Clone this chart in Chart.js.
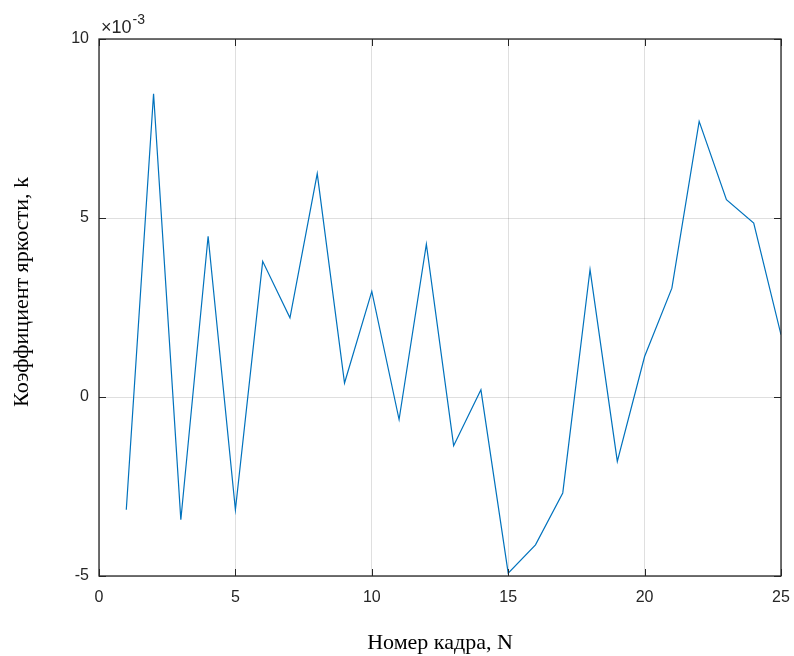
<!DOCTYPE html>
<html>
<head>
<meta charset="utf-8">
<script src="https://cdn.jsdelivr.net/npm/chart.js@4.4.1/dist/chart.umd.min.js"></script>
<style>
  html, body { margin: 0; padding: 0; background: #fff; }
  #wrap { width: 794px; height: 656px; }
</style>
</head>
<body>
<div id="wrap"><canvas id="chart" width="794" height="656"></canvas></div>
<script>
// frame numbers and brightness coefficient (in units of 1e-3)
const frames = [1, 2, 3, 4, 5, 6, 7, 8, 9, 10, 11, 12, 13, 14, 15, 16, 17, 18, 19, 20, 21, 22, 23, 24, 25];
const brightnessK = [-3.15, 8.47, -3.43, 4.49, -3.15, 3.79, 2.21, 6.24, 0.39, 2.95, -0.63, 4.27, -1.36, 0.2, -4.92,
    -4.13, -2.68, 3.56, -1.80, 1.13, 3.04, 7.70, 5.51, 4.86, 1.74];
const xTicks = [0, 5, 10, 15, 20, 25];
const yTicks = [-5, 0, 5, 10];
const yTitle = "Коэффициент яркости, k";

const axisColor = "#262626";

// MATLAB-like box, inward ticks, exponent label and the y title
const matlabAxes = {
    id: "matlabAxes",
    afterDraw(chart) {
        const { ctx, chartArea: a, scales } = chart;
        ctx.save();
        ctx.strokeStyle = axisColor;
        ctx.lineWidth = 1.3;
        ctx.strokeRect(a.left, a.top, a.right - a.left, a.bottom - a.top);
        ctx.lineWidth = 1;
        ctx.beginPath();
        xTicks.forEach(v => {
            const x = Math.round(scales.x.getPixelForValue(v)) + 0.5;
            ctx.moveTo(x, a.bottom); ctx.lineTo(x, a.bottom - 7);
            ctx.moveTo(x, a.top); ctx.lineTo(x, a.top + 7);
        });
        yTicks.forEach(v => {
            const y = Math.round(scales.y.getPixelForValue(v)) + 0.5;
            ctx.moveTo(a.left, y); ctx.lineTo(a.left + 7, y);
            ctx.moveTo(a.right, y); ctx.lineTo(a.right - 7, y);
        });
        ctx.stroke();

        ctx.fillStyle = axisColor;
        ctx.textBaseline = "alphabetic";
        ctx.textAlign = "left";
        ctx.font = "18px 'Liberation Sans', Arial, sans-serif";
        ctx.fillText("\u00d710", a.left + 2, a.top - 6);
        const w = ctx.measureText("\u00d710").width;
        ctx.font = "14px 'Liberation Sans', Arial, sans-serif";
        ctx.fillText("-3", a.left + 3 + w, a.top - 15);

        // y axis title, a bit above the middle as in the original
        ctx.fillStyle = "#000";
        ctx.font = "22px 'Liberation Serif', 'Times New Roman', serif";
        ctx.textAlign = "center";
        ctx.textBaseline = "middle";
        ctx.translate(22, 292);
        ctx.rotate(-Math.PI / 2);
        ctx.fillText(yTitle, 0, 0);
        ctx.restore();
    }
};

new Chart(document.getElementById("chart"), {
    type: "line",
    data: {
        datasets: [
            {
                label: "k",
                data: frames.map((f, i) => ({ x: f, y: brightnessK[i] })),
                borderColor: "#0072BD",
                borderWidth: 1.2,
                pointRadius: 0,
                tension: 0,
                fill: false,
            },
        ],
    },
    options: {
        responsive: false,
        animation: false,
        layout: { padding: { top: 39, right: 13, left: 0, bottom: 0 } },
        plugins: {
            legend: { display: false },
            tooltip: { enabled: false },
        },
        scales: {
            x: {
                type: "linear",
                min: 0,
                max: 25,
                afterBuildTicks: s => { s.ticks = xTicks.map(v => ({ value: v })); },
                afterFit: s => { s.height = 80; s.paddingLeft = 0; s.paddingRight = 0; },
                grid: { color: "rgba(38,38,38,0.15)", drawTicks: false },
                border: { display: false },
                ticks: {
                    padding: 12,
                    color: axisColor,
                    font: { family: "'Liberation Sans', Arial, sans-serif", size: 16 },
                },
                title: {
                    display: true,
                    text: "Номер кадра, N",
                    color: "#000",
                    font: { family: "'Liberation Serif', 'Times New Roman', serif", size: 22 },
                    padding: { top: 7, bottom: 0 },
                },
            },
            y: {
                type: "linear",
                min: -5,
                max: 10,
                afterBuildTicks: s => { s.ticks = yTicks.map(v => ({ value: v })); },
                afterFit: s => { s.width = 99; s.paddingTop = 0; s.paddingBottom = 0; },
                grid: { color: "rgba(38,38,38,0.15)", drawTicks: false },
                border: { display: false },
                ticks: {
                    padding: 10,
                    color: axisColor,
                    font: { family: "'Liberation Sans', Arial, sans-serif", size: 16 },
                },
            },
        },
    },
    plugins: [matlabAxes],
});
</script>
</body>
</html>
